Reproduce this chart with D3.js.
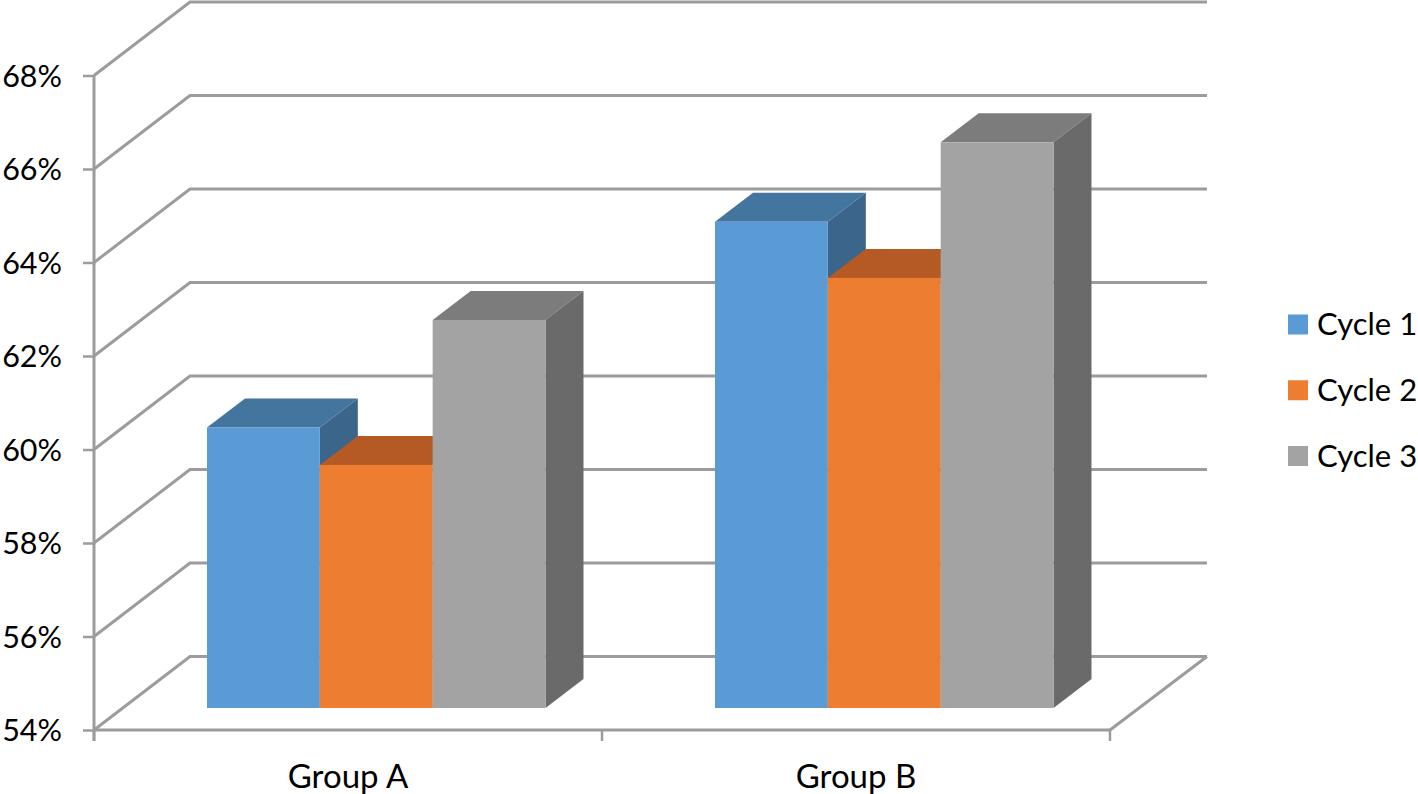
<!DOCTYPE html>
<html><head><meta charset="utf-8">
<script src="https://cdn.jsdelivr.net/npm/d3@7"></script>
<style>html,body{margin:0;padding:0;background:#fff;overflow:hidden}svg{display:block}
text{font-family:"Lato",sans-serif;fill:#000}</style></head>
<body><svg id="c" width="1418" height="794"></svg>
<script>
const groups = ["Group A","Group B"];
const seriesNames = ["Cycle 1","Cycle 2","Cycle 3"];
const cycle1 = [60.0,64.4];
const cycle2 = [59.2,63.2];
const cycle3 = [62.3,66.1];
const seriesValues = [cycle1,cycle2,cycle3];
const yTicks = [54,56,58,60,62,64,66,68];
const frontColors = ["#5b9bd5","#ed7d31","#a3a3a3"];
const topColors = ["#44759f","#b55a24","#7c7c7c"];
const sideColors = ["#3c658c","#a8501f","#6a6a6a"];

const svg = d3.select("#c");
const y = d3.scaleLinear().domain([54,68]).range([730,75.5]);
const x0 = d3.scaleBand().domain(groups).range([94,1110]);
const x1 = d3.scaleBand().domain(seriesNames).range([84,422.5]);
const wall = {dx:96,dy:-73.5}, rightEnd = 1207;
const barFront = {dx:29,dy:-22}, barDepth = {dx:38,dy:-29};
const gridColor = "#9c9c9c", gw = 3;

// walls
const grid = svg.append("g").attr("fill","none").attr("stroke",gridColor).attr("stroke-width",gw).attr("stroke-linejoin","miter");
grid.selectAll("path").data(yTicks).join("path").attr("d",v=>{
  const p=d3.path(),yy=y(v);
  p.moveTo(94,yy);p.lineTo(94+wall.dx,yy+wall.dy);p.lineTo(rightEnd,yy+wall.dy);
  return p.toString();
});
grid.append("path").attr("d",()=>{
  const p=d3.path();p.moveTo(rightEnd,y(54)+wall.dy);p.lineTo(1110,y(54));return p.toString();
});

// axes
const yAxis = d3.axisLeft(y).tickValues(yTicks).tickFormat(d=>d+"%").tickSize(11).tickPadding(21);
const gy = svg.append("g").attr("transform","translate(94,0)").call(yAxis);
gy.select(".domain").attr("stroke",gridColor).attr("stroke-width",gw).attr("d",`M0,${y(68)}V741`);
gy.selectAll(".tick line").attr("stroke",gridColor).attr("stroke-width",2.5);
gy.selectAll(".tick text").attr("font-size",30.5).attr("font-family",null).attr("dy","0.35em");

const xAxis = d3.axisBottom(x0).tickSize(0).tickPadding(35);
const gx = svg.append("g").attr("transform",`translate(0,${y(54)})`).call(xAxis);
gx.select(".domain").attr("stroke",gridColor).attr("stroke-width",gw).attr("d","M94,0H1110");
gx.selectAll(".tick text").attr("font-size",33).attr("font-family",null);
gx.selectAll("line.edge").data([94,602,1110]).join("line").attr("class","edge")
  .attr("x1",d=>d).attr("x2",d=>d).attr("y1",0).attr("y2",11).attr("stroke",gridColor).attr("stroke-width",2.5);

// bars, painted left to right
const bars = svg.append("g");
groups.forEach((g,gi)=>{
  seriesNames.forEach((s,si)=>{
    const v = seriesValues[si][gi];
    const xl = x0(g)+x1(s)+barFront.dx, xr = xl+x1.bandwidth();
    const yt = y(v)+barFront.dy, yb = y(54)+barFront.dy;
    const dx = barDepth.dx, dy = barDepth.dy;
    bars.append("polygon").attr("fill",topColors[si])
      .attr("points",[[xl,yt],[xl+dx,yt+dy],[xr+dx,yt+dy],[xr,yt]].join(" "));
    bars.append("polygon").attr("fill",sideColors[si])
      .attr("points",[[xr,yt],[xr+dx,yt+dy],[xr+dx,yb+dy],[xr,yb]].join(" "));
    bars.append("rect").attr("fill",frontColors[si])
      .attr("x",xl).attr("y",yt).attr("width",xr-xl).attr("height",yb-yt);
  });
});

// legend
const lg = svg.append("g");
const ly = d3.scalePoint().domain(seriesNames).range([324.5,456]);
seriesNames.forEach((s,i)=>{
  lg.append("rect").attr("x",1288).attr("y",ly(s)-10).attr("width",20).attr("height",20).attr("fill",frontColors[i]);
  lg.append("text").attr("x",1317).attr("y",ly(s)).attr("dy","0.35em").attr("font-size",31).text(s);
});
</script></body></html>
